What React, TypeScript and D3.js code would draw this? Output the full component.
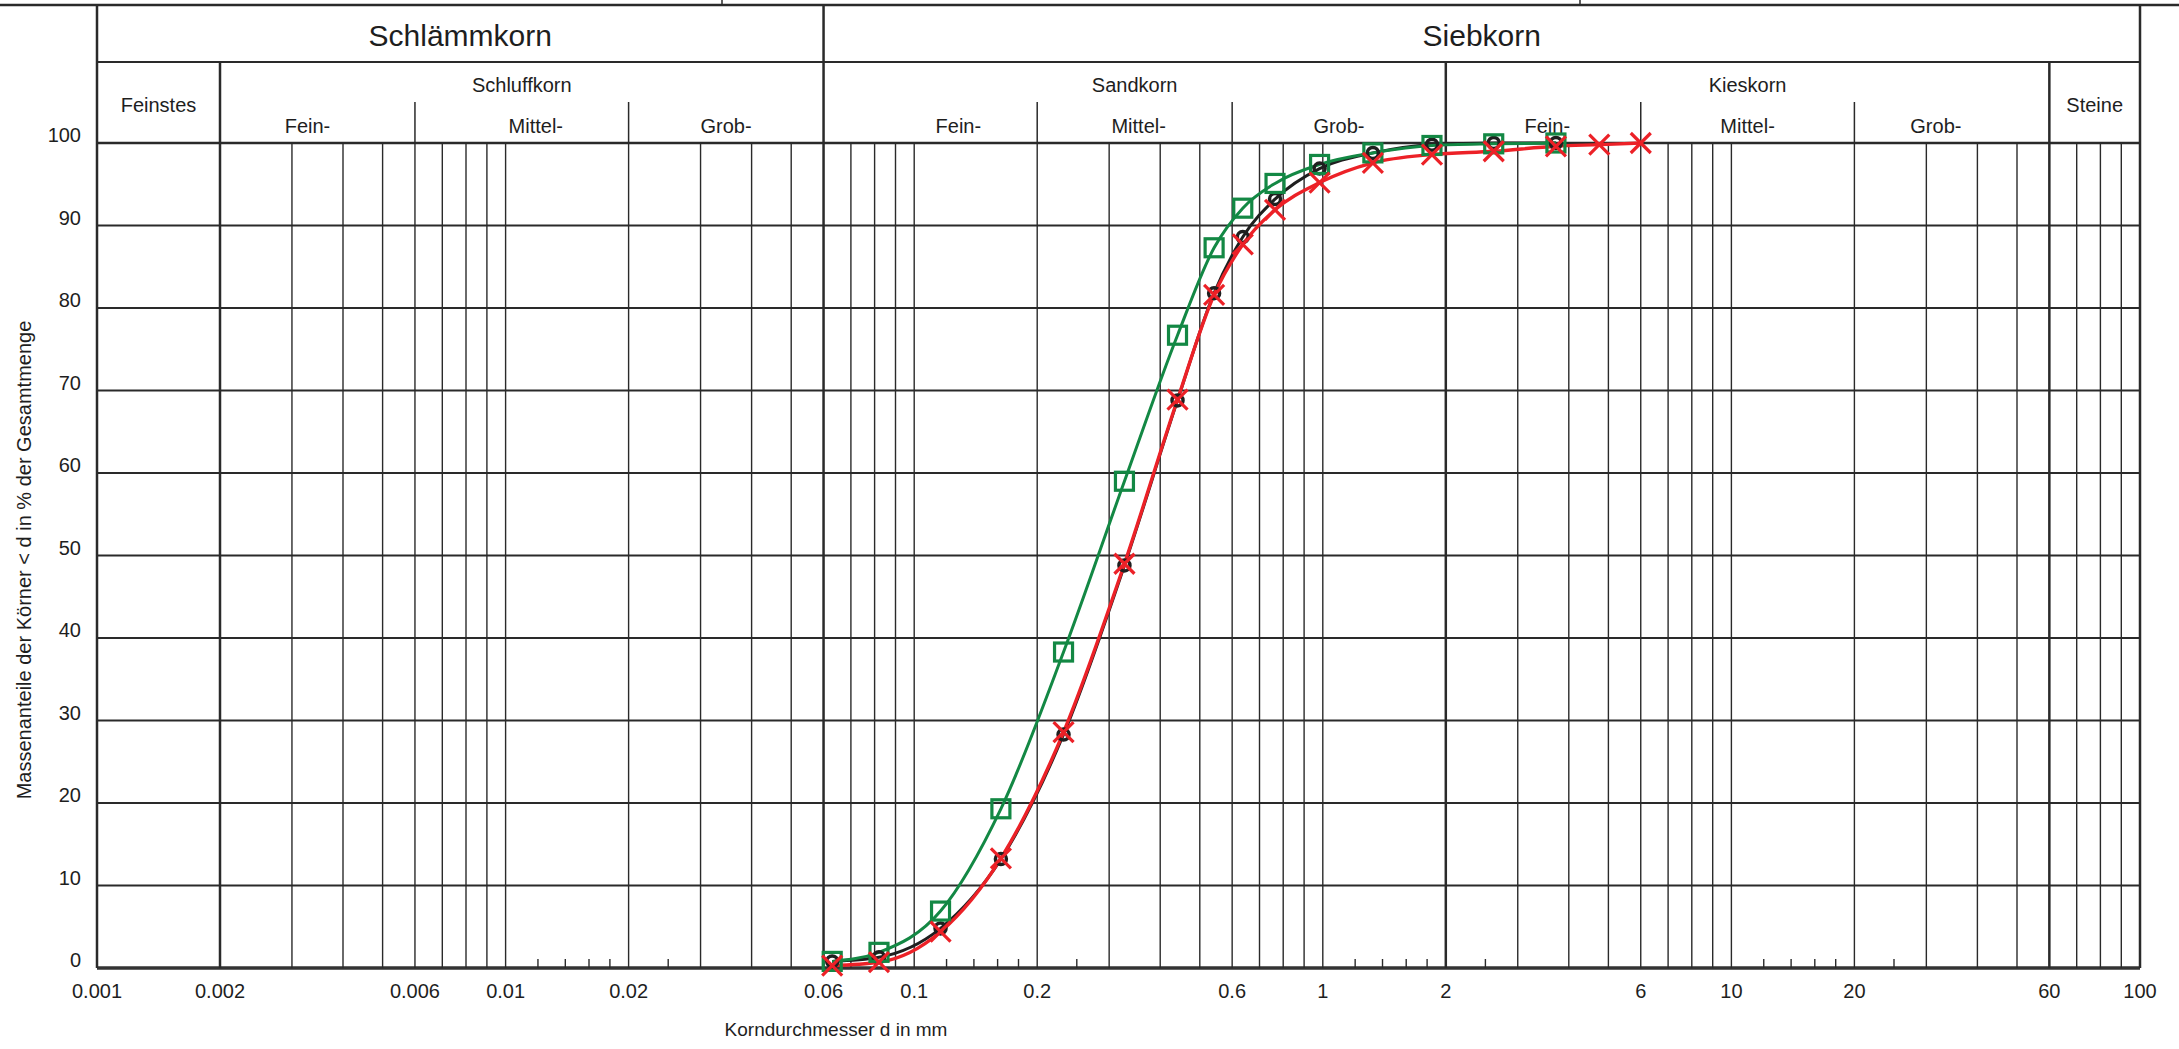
import React, { useEffect } from 'react';
import * as d3 from 'd3';

const W = 2179;
const H = 1049;

// Korndurchmesser d in mm of the measured points
const grainSizes = [0.063, 0.082, 0.116, 0.163, 0.232, 0.327, 0.441, 0.542, 0.637, 0.764, 0.982, 1.326, 1.85, 2.62, 3.72];
const grainSizesRed = [...grainSizes, 4.75, 6.0];

// Massenanteile < d in %
const passingBlack = [0.8, 1.3, 4.8, 13.2, 28.3, 48.8, 68.8, 81.8, 88.6, 93.2, 96.9, 98.8, 99.8, 100, 100];
const passingRed = [0.3, 0.7, 4.4, 13.3, 28.6, 49.0, 68.9, 81.6, 87.7, 91.9, 95.2, 97.6, 98.6, 99.0, 99.6, 99.8, 100];
const passingGreen = [0.8, 1.9, 6.9, 19.3, 38.3, 59.0, 76.7, 87.3, 92.1, 95.1, 97.4, 98.8, 99.7, 99.9, 100];

const yTicks = [0, 10, 20, 30, 40, 50, 60, 70, 80, 90, 100];
const xTickValues = [0.001, 0.002, 0.006, 0.01, 0.02, 0.06, 0.1, 0.2, 0.6, 1, 2, 6, 10, 20, 60, 100];

const decades = [0.001, 0.01, 0.1, 1, 10];
const fullSteps = [1, 2, 3, 4, 5, 6, 7, 8, 9];
const shortSteps = [1.2, 1.4, 1.6, 1.8, 2.5];
const boldLines = [0.002, 0.06, 2, 60];

const mainGroups = [
  { label: 'Schlämmkorn', from: 0.001, to: 0.06 },
  { label: 'Siebkorn', from: 0.06, to: 100 },
];
const soilGroups = [
  { label: 'Feinstes', from: 0.001, to: 0.002, single: true },
  { label: 'Schluffkorn', from: 0.002, to: 0.06, single: false },
  { label: 'Sandkorn', from: 0.06, to: 2, single: false },
  { label: 'Kieskorn', from: 2, to: 60, single: false },
  { label: 'Steine', from: 60, to: 100, single: true },
];
const fractions = [
  { label: 'Fein-', from: 0.002, to: 0.006 },
  { label: 'Mittel-', from: 0.006, to: 0.02 },
  { label: 'Grob-', from: 0.02, to: 0.06 },
  { label: 'Fein-', from: 0.06, to: 0.2 },
  { label: 'Mittel-', from: 0.2, to: 0.6 },
  { label: 'Grob-', from: 0.6, to: 2 },
  { label: 'Fein-', from: 2, to: 6 },
  { label: 'Mittel-', from: 6, to: 20 },
  { label: 'Grob-', from: 20, to: 60 },
];

const FONT = '"Liberation Sans", Arial, Helvetica, sans-serif';
const INK = '#2a2a2a';
const TXT = '#1e1e1e';
const GREEN = '#138844';
const RED = '#ec2127';
const BLACK = '#1f1f1f';

// small nudges of the fraction labels, as placed in the original sheet
const fractionNudge = [-10, 14, 0, 28, 4, 0, 4, 0, -16];

export default function App() {
  useEffect(() => {
    document.body.style.margin = '0';
  }, []);

  const x = d3.scaleLog().domain([0.001, 100]).range([97, 2140]);
  const y = d3.scaleLinear().domain([0, 100]).range([968, 143]);

  const yTop = 5;
  const yRow1 = 62;
  const yRow2 = 102;
  const yHead = y(100);
  const yBase = y(0);

  const fullLines: number[] = [];
  decades.forEach((dec) => fullSteps.forEach((s) => fullLines.push(+(dec * s).toPrecision(3))));
  fullLines.push(100);
  const shortTicks: number[] = [];
  decades.slice(1).forEach((dec) => shortSteps.forEach((s) => shortTicks.push(+(dec * s).toPrecision(3))));

  const mid = (a: number, b: number) => (x(a) + x(b)) / 2;

  const line = d3
    .line<[number, number]>()
    .x((d) => x(d[0]))
    .y((d) => y(d[1]))
    .curve(d3.curveMonotoneX);

  const black = grainSizes.map((g, i) => [g, passingBlack[i]] as [number, number]);
  const red = grainSizesRed.map((g, i) => [g, passingRed[i]] as [number, number]);
  const green = grainSizes.map((g, i) => [g, passingGreen[i]] as [number, number]);

  return (
    <svg
      width={W}
      height={H}
      style={{ position: 'absolute', left: 0, top: 0, background: '#fff', display: 'block' }}
      fontFamily={FONT}
    >
      {/* top border of the sheet */}
      <line x1={0} x2={W} y1={yTop} y2={yTop} stroke={INK} strokeWidth={2.5} />
      <line x1={722} x2={722} y1={0} y2={yTop} stroke={INK} strokeWidth={1.5} />
      <line x1={1580} x2={1580} y1={0} y2={yTop} stroke={INK} strokeWidth={1.5} />

      {/* horizontal grid */}
      {yTicks.map((t) => (
        <line
          key={'h' + t}
          x1={x(0.001)}
          x2={x(100)}
          y1={y(t)}
          y2={y(t)}
          stroke={t === 0 ? '#333' : INK}
          strokeWidth={t === 0 ? 3.5 : t === 100 ? 2.5 : 2}
        />
      ))}

      {/* vertical grid */}
      {fullLines.map((v) => {
        const bold = boldLines.includes(v);
        const frame = v === 0.001 || v === 100;
        return (
          <line
            key={'v' + v}
            x1={x(v)}
            x2={x(v)}
            y1={frame || v === 0.06 ? yTop : bold ? yRow1 : yHead}
            y2={yBase}
            stroke={INK}
            strokeWidth={frame || bold ? 2.5 : 1.4}
          />
        );
      })}
      {shortTicks.map((v) => (
        <line key={'s' + v} x1={x(v)} x2={x(v)} y1={yBase - 9} y2={yBase} stroke={INK} strokeWidth={1.4} />
      ))}

      {/* header */}
      <line x1={x(0.001)} x2={x(100)} y1={yRow1} y2={yRow1} stroke={INK} strokeWidth={2} />
      {fractions.map((f, i) => (
        <g key={'f' + i}>
          {fractions[i - 1] && fractions[i - 1].to === f.from && !boldLines.includes(f.from) ? (
            <line x1={x(f.from)} x2={x(f.from)} y1={yRow2} y2={yHead} stroke={INK} strokeWidth={1.5} />
          ) : null}
          <text x={mid(f.from, f.to) + fractionNudge[i]} y={133} textAnchor="middle" fontSize={20} fill={TXT}>
            {f.label}
          </text>
        </g>
      ))}
      {mainGroups.map((g) => (
        <text key={g.label} x={mid(g.from, g.to)} y={46} textAnchor="middle" fontSize={30} fill={TXT}>
          {g.label}
        </text>
      ))}
      {soilGroups.map((g) => (
        <text
          key={g.label}
          x={mid(g.from, g.to)}
          y={g.single ? 112 : 92}
          textAnchor="middle"
          fontSize={20}
          fill={TXT}
        >
          {g.label}
        </text>
      ))}

      {/* axes labels */}
      {yTicks.map((t) => (
        <text key={'yl' + t} x={81} y={y(t) - 1} textAnchor="end" fontSize={20} fill={TXT}>
          {t}
        </text>
      ))}
      {xTickValues.map((v) => (
        <text key={'xl' + v} x={x(v)} y={998} textAnchor="middle" fontSize={20} fill={TXT}>
          {String(v)}
        </text>
      ))}
      <text x={836} y={1036} textAnchor="middle" fontSize={19} fill={TXT}>
        Korndurchmesser d in mm
      </text>
      <text transform="translate(31,560) rotate(-90)" textAnchor="middle" fontSize={20} fill={TXT}>
        Massenanteile der Körner &lt; d in % der Gesamtmenge
      </text>

      {/* curves */}
      <path d={line(black) || ''} fill="none" stroke={BLACK} strokeWidth={3} />
      <path d={line(green) || ''} fill="none" stroke={GREEN} strokeWidth={3} />
      <path d={line(red) || ''} fill="none" stroke={RED} strokeWidth={3.4} />

      {/* markers */}
      {black.map((d, i) => (
        <circle key={'b' + i} cx={x(d[0])} cy={y(d[1])} r={5.5} fill="none" stroke={BLACK} strokeWidth={3.5} />
      ))}
      {green.map((d, i) => (
        <rect
          key={'g' + i}
          x={x(d[0]) - 9}
          y={y(d[1]) - 9}
          width={18}
          height={18}
          fill="none"
          stroke={GREEN}
          strokeWidth={3.2}
        />
      ))}
      {red.map((d, i) => {
        const cx = x(d[0]);
        const cy = y(d[1]);
        return (
          <path
            key={'r' + i}
            d={`M${cx - 10},${cy - 10}L${cx + 10},${cy + 10}M${cx - 10},${cy + 10}L${cx + 10},${cy - 10}`}
            stroke={RED}
            strokeWidth={3.2}
            fill="none"
          />
        );
      })}
    </svg>
  );
}
